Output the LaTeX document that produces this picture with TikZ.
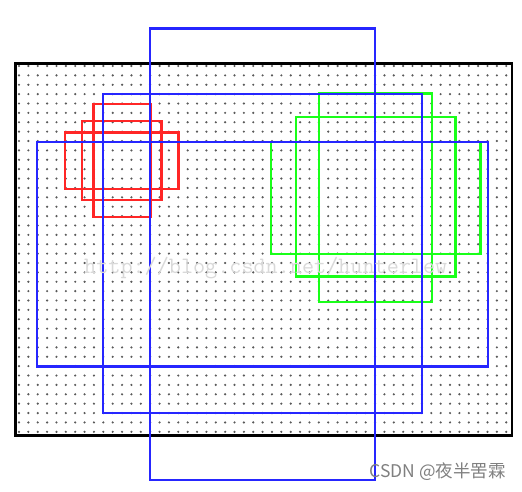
\documentclass[tikz,border=0pt]{standalone}
\usepackage{fontspec}
\newfontfamily\cjk{Noto Sans CJK SC}
\begin{document}
\begin{tikzpicture}[x=1pt,y=-1pt,
  dotmark/.style={fill=black!65},
  frame/.style={draw=black,line width=2.6pt},
  bluebox/.style={draw=blue!85!white,line width=2.2pt},
  redbox/.style={draw=red!85!white,line width=2.2pt},
  greenbox/.style={draw=green!90!white,line width=2.2pt},
  watermark/.style={text=black!15,font=\ttfamily\fontsize{23.5}{25}\selectfont,inner sep=0pt},
  credit/.style={text=black!50,font=\cjk\fontsize{17.5}{19}\selectfont,inner sep=0pt}]
\useasboundingbox (0,0) rectangle (522,492);
\fill[white] (0,0) rectangle (522,492);
% dot grid
\foreach \i in {0,...,52}{
  \foreach \j in {0,...,39}{
    \fill[dotmark] (19+\i*9.37,66+\j*9.38) circle (1.2);
  }
}
% black frame
\draw[frame] (15.5,63.5) rectangle (512,435.5);
% red boxes
\draw[redbox] (93.5,104) rectangle (150.5,217);
\draw[redbox] (82,121) rectangle (161.5,200);
\draw[redbox] (65,132.5) rectangle (178.5,189);
% green boxes
\draw[greenbox] (319,93.5) rectangle (432,302);
\draw[greenbox] (296,117) rectangle (455.5,276.5);
\draw[greenbox] (271,142) rectangle (480.5,254);
% blue boxes
\draw[bluebox] (150,28.5) rectangle (375,480);
\draw[bluebox] (103,94) rectangle (422,413);
\draw[bluebox] (37,142) rectangle (488,366.5);
% texts
\node[watermark,anchor=west] (wm) at (84,268) {http://blog.csdn.net/hunterlew};
\node[credit,anchor=east] (cr) at (506,472) {CSDN @夜半罟霖};
\end{tikzpicture}
\end{document}
